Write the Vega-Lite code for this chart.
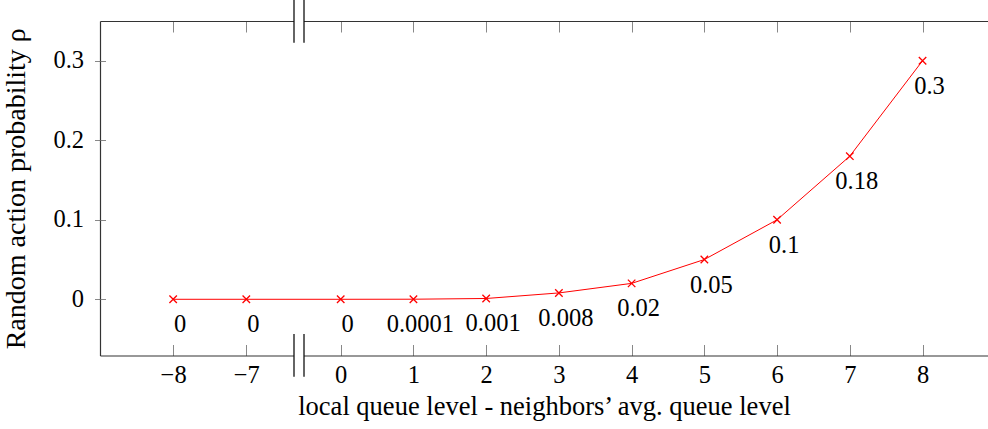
{
  "$schema": "https://vega.github.io/schema/vega-lite/v6.json",
  "width": 888,
  "height": 334.5,
  "autosize": "none",
  "padding": {"left": 100, "top": 21, "right": 0, "bottom": 73.5},
  "background": "white",
  "config": {
    "view": {"stroke": null},
    "font": "Liberation Serif",
    "axis": {
      "labelFont": "Liberation Serif",
      "titleFont": "Liberation Serif",
      "labelColor": "#000",
      "titleColor": "#000",
      "titleFontWeight": "normal",
      "domainColor": "#333",
      "domainWidth": 1.2,
      "tickColor": "#888888",
      "tickWidth": 1,
      "grid": false
    }
  },
  "datasets": {
    "pts": [
      {"d": -8, "p": 0, "label": "0"},
      {"d": -7, "p": 0, "label": "0"},
      {"d": 0, "p": 0, "label": "0"},
      {"d": 1, "p": 0.0001, "label": "0.0001"},
      {"d": 2, "p": 0.001, "label": "0.001"},
      {"d": 3, "p": 0.008, "label": "0.008"},
      {"d": 4, "p": 0.02, "label": "0.02"},
      {"d": 5, "p": 0.05, "label": "0.05"},
      {"d": 6, "p": 0.1, "label": "0.1"},
      {"d": 7, "p": 0.18, "label": "0.18"},
      {"d": 8, "p": 0.3, "label": "0.3"}
    ],
    "brkline": [
      {"bx": -3.463, "y1": 0.3764, "y2": 0.3227},
      {"bx": -2.721, "y1": 0.3764, "y2": 0.3227},
      {"bx": -3.463, "y1": -0.0437, "y2": -0.0975},
      {"bx": -2.721, "y1": -0.0437, "y2": -0.0975}
    ],
    "brkgap": [
      {"x1": -3.463, "x2": -2.721, "y1": 0.3538, "y2": 0.3462},
      {"x1": -3.463, "x2": -2.721, "y1": -0.0670, "y2": -0.0746}
    ]
  },
  "resolve": {"axis": {"x": "independent", "y": "independent"}},
  "layer": [
    {
      "data": {"name": "pts"},
      "mark": {"type": "line", "color": "#ff0000", "strokeWidth": 1},
      "encoding": {
        "x": {
          "field": "d", "type": "quantitative",
          "scale": {"domain": [-9, -7, 0, 8.9], "range": [0, 146.3, 240.7, 888], "nice": false, "zero": false},
          "axis": {
            "orient": "bottom",
            "values": [-8, -7, 0, 1, 2, 3, 4, 5, 6, 7, 8],
            "format": "d",
            "tickSize": -11,
            "labelFontSize": 24.5,
            "labelPadding": 19,
            "title": "local queue level - neighbors’ avg. queue level",
            "titleFontSize": 26.5,
            "titlePadding": 6
          }
        },
        "y": {
          "field": "p", "type": "quantitative",
          "scale": {"domain": [-0.0707, 0.35], "nice": false, "zero": false},
          "axis": {
            "orient": "left",
            "values": [0, 0.1, 0.2, 0.3],
            "format": ".1~f",
            "tickSize": 5.5,
            "labelFontSize": 24.5,
            "labelPadding": 11,
            "title": "Random action probability ρ",
            "titleFontSize": 28,
            "titlePadding": 22
          }
        }
      }
    },
    {
      "data": {"name": "pts"},
      "mark": {"type": "point", "shape": "M-1,-1L1,1M-1,1L1,-1", "filled": false, "stroke": "#ff0000", "strokeWidth": 1.3, "size": 56, "opacity": 1},
      "encoding": {
        "x": {
          "field": "d", "type": "quantitative",
          "axis": {
            "orient": "top",
            "values": [-8, -7, 0, 1, 2, 3, 4, 5, 6, 7, 8],
            "tickSize": -11,
            "labels": false,
            "title": null
          }
        },
        "y": {
          "field": "p", "type": "quantitative",
          "axis": {
            "orient": "right",
            "offset": -888,
            "values": [0, 0.1, 0.2, 0.3],
            "tickSize": 5.5,
            "labels": false,
            "domain": false,
            "title": null
          }
        }
      }
    },
    {
      "data": {"name": "pts"},
      "mark": {"type": "text", "font": "Liberation Serif", "fontSize": 24.5, "dy": 26, "dx": 7, "baseline": "middle", "align": "center", "color": "#000"},
      "encoding": {
        "x": {"field": "d", "type": "quantitative", "axis": null},
        "y": {"field": "p", "type": "quantitative", "axis": null},
        "text": {"field": "label", "type": "nominal"}
      }
    },
    {
      "data": {"name": "brkgap"},
      "mark": {"type": "rect", "fill": "white", "stroke": null},
      "encoding": {
        "x": {"field": "x1", "type": "quantitative", "axis": null},
        "x2": {"field": "x2"},
        "y": {"field": "y1", "type": "quantitative", "axis": null},
        "y2": {"field": "y2"}
      }
    },
    {
      "data": {"name": "brkline"},
      "mark": {"type": "rule", "color": "#111", "strokeWidth": 1.3},
      "encoding": {
        "x": {"field": "bx", "type": "quantitative", "axis": null},
        "y": {"field": "y1", "type": "quantitative", "axis": null},
        "y2": {"field": "y2"}
      }
    }
  ]
}
